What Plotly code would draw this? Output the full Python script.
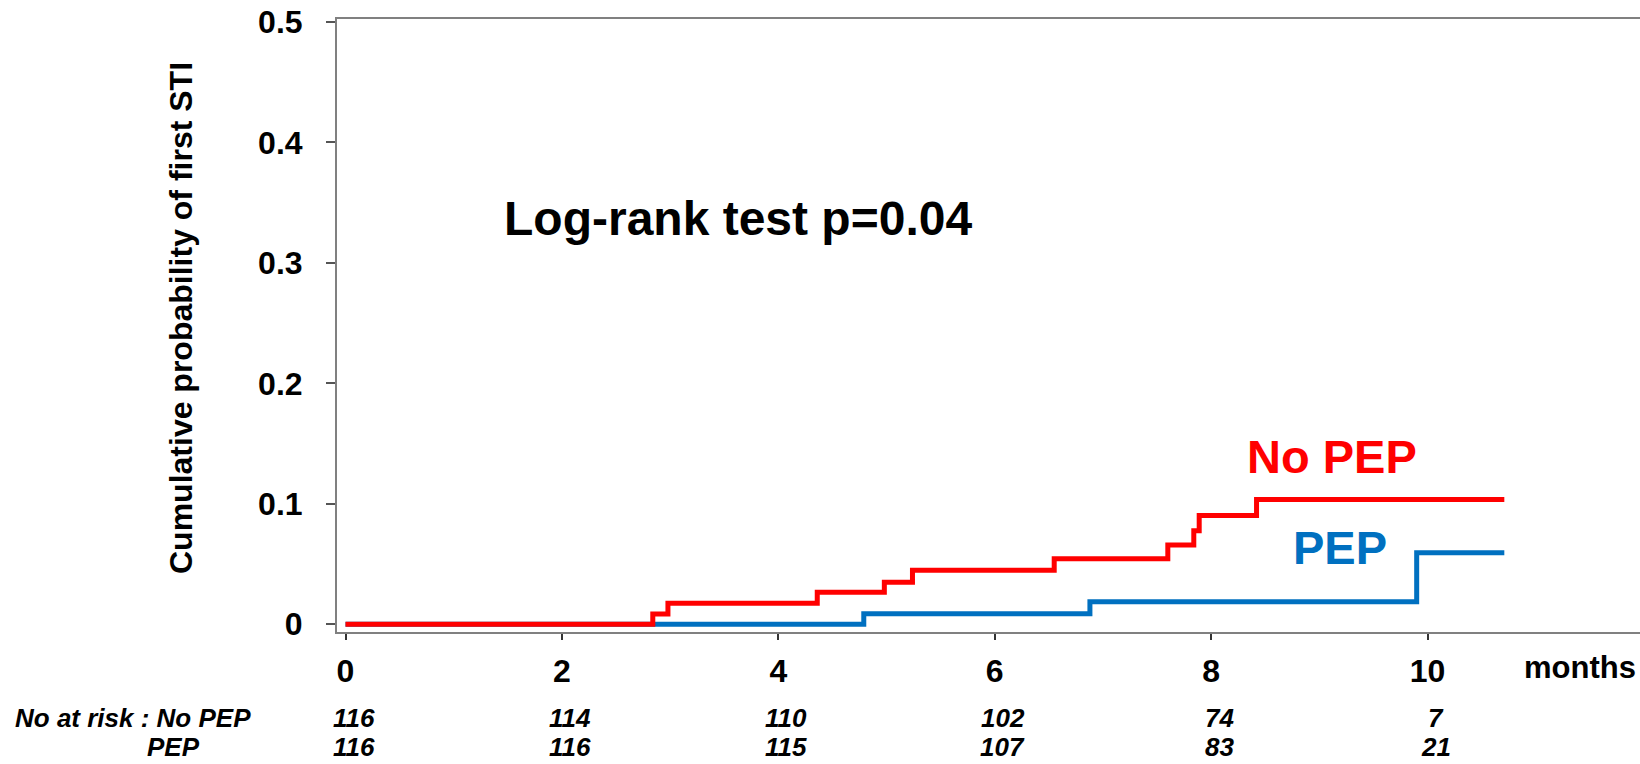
import plotly.graph_objects as go

# ---- data ----
months_nopep = [0, 2.84, 2.98, 4.36, 4.98, 5.24, 6.55, 7.60, 7.84, 7.89, 8.42, 10.71]
prob_nopep = [0, 0.0086, 0.0174, 0.0265, 0.0350, 0.0448, 0.0545, 0.0658, 0.0776, 0.0904, 0.1036, 0.1036]

months_pep = [0, 4.79, 6.88, 9.90, 10.71]
prob_pep = [0, 0.0088, 0.0187, 0.0594, 0.0594]

x_ticks = [0, 2, 4, 6, 8, 10]
y_ticks = [0, 0.1, 0.2, 0.3, 0.4, 0.5]
y_tick_labels = ["0", "0.1", "0.2", "0.3", "0.4", "0.5"]

risk_times = [0, 2, 4, 6, 8, 10]
risk_nopep = [116, 114, 110, 102, 74, 7]
risk_pep = [116, 116, 115, 107, 83, 21]

RED = "#FF0000"
BLUE = "#0070C0"
FONT = "Liberation Sans, Arial, sans-serif"

W, H = 1640, 764
L, R, T, B = 337, 0, 19, 132
PW, PH = W - L - R, H - T - B


def px(xp):
    return (xp - L) / PW


def py(yp):
    return (H - B - yp) / PH


fig = go.Figure()
fig.add_trace(go.Scatter(x=months_pep, y=prob_pep, mode="lines", line=dict(color=BLUE, width=5, shape="hv"),
                         name="PEP", showlegend=False, hoverinfo="skip"))
fig.add_trace(go.Scatter(x=months_nopep, y=prob_nopep, mode="lines", line=dict(color=RED, width=5, shape="hv"),
                         name="No PEP", showlegend=False, hoverinfo="skip"))

annotations = []
annotations.append(dict(text="Log-rank test p=0.04", x=px(502), y=py(218), xref="paper", yref="paper",
                        xanchor="left", yanchor="middle", showarrow=False,
                        font=dict(family=FONT, size=48, color="black", weight="bold")))
annotations.append(dict(text="No PEP", x=px(1245), y=py(456), xref="paper", yref="paper",
                        xanchor="left", yanchor="middle", showarrow=False,
                        font=dict(family=FONT, size=47, color=RED, weight="bold")))
annotations.append(dict(text="PEP", x=px(1291), y=py(547), xref="paper", yref="paper",
                        xanchor="left", yanchor="middle", showarrow=False,
                        font=dict(family=FONT, size=47, color=BLUE, weight="bold")))
annotations.append(dict(text="months", x=px(1638), y=py(667), xref="paper", yref="paper",
                        xanchor="right", yanchor="middle", showarrow=False,
                        font=dict(family=FONT, size=31, color="black", weight="bold")))
annotations.append(dict(text="Cumulative probability of first STI", x=px(181), y=py(318), xref="paper", yref="paper",
                        xanchor="center", yanchor="middle", showarrow=False, textangle=-90,
                        font=dict(family=FONT, size=32, color="black", weight="bold")))

risk_font = dict(family=FONT, size=26, color="black", weight="bold", style="italic")
ROW1, ROW2 = 718, 747
annotations.append(dict(text="No at risk : No PEP", x=px(14), y=py(ROW1), xref="paper", yref="paper",
                        xanchor="left", yanchor="middle", showarrow=False, font=risk_font, borderpad=0))
annotations.append(dict(text="PEP", x=px(146), y=py(ROW2), xref="paper", yref="paper",
                        xanchor="left", yanchor="middle", showarrow=False, font=risk_font, borderpad=0))
for t, a, b in zip(risk_times, risk_nopep, risk_pep):
    annotations.append(dict(text=str(a), x=t, y=py(ROW1), xref="x", yref="paper", xshift=8,
                            xanchor="center", yanchor="middle", showarrow=False, font=risk_font, borderpad=0))
    annotations.append(dict(text=str(b), x=t, y=py(ROW2), xref="x", yref="paper", xshift=8,
                            xanchor="center", yanchor="middle", showarrow=False, font=risk_font, borderpad=0))

fig.update_layout(
    width=W, height=H,
    margin=dict(l=L, r=R, t=T, b=B, pad=0),
    paper_bgcolor="white", plot_bgcolor="white",
    annotations=annotations,
    showlegend=False,
)
fig.update_xaxes(
    range=[-0.0786, 11.964], tickvals=x_ticks, ticktext=[str(v) for v in x_ticks],
    showgrid=False, zeroline=False, showline=True, linecolor="#808080", linewidth=2, mirror=True,
    ticks="outside", ticklen=6, tickwidth=1.5, tickcolor="#333333",
    tickfont=dict(family=FONT, size=32, color="black", weight="bold"), ticklabelstandoff=4,
)
fig.update_yaxes(
    range=[-0.0064, 0.5025], tickvals=y_ticks, ticktext=y_tick_labels,
    showgrid=False, zeroline=False, showline=True, linecolor="#808080", linewidth=2,
    ticks="outside", ticklen=9, tickwidth=1.5, tickcolor="#555555",
    tickfont=dict(family=FONT, size=32, color="black", weight="bold"), ticklabelstandoff=17,
)

fig.write_html("out.html")
